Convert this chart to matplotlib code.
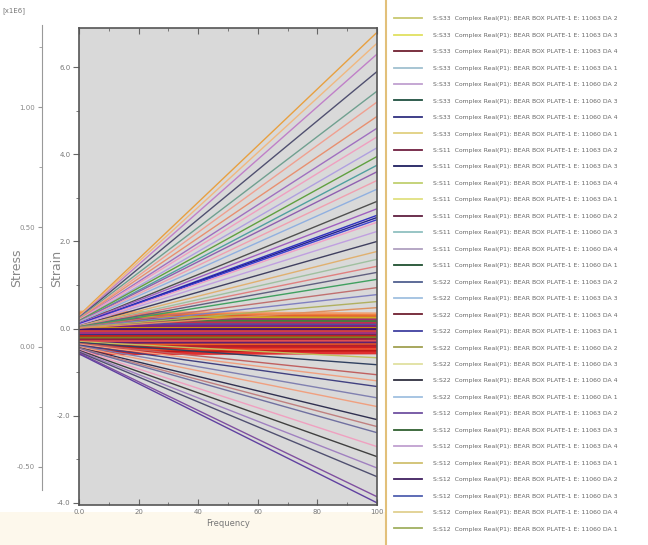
import matplotlib.pyplot as plt
from matplotlib.lines import Line2D
from matplotlib.patches import Rectangle
from matplotlib.ticker import MultipleLocator

# frequency end points of every curve
freq = [0.0, 100.0]

# curves that fan upwards (value at 0 and at 100)
up_start = [0.30, 0.28, 0.26, 0.25, 0.24, 0.22, 0.22, 0.20, 0.20, 0.18, 0.18, 0.16,
            0.16, 0.15, 0.14, 0.12, 0.12, 0.10, 0.10, 0.10, 0.08, 0.08, 0.06, 0.06,
            0.05, 0.05, 0.04, 0.04, 0.03, 0.02, 0.02, 0.01]
up_end = [6.80, 6.55, 6.30, 5.90, 5.45, 5.20, 4.87, 4.60, 4.40, 4.15, 3.95, 3.75,
          3.60, 3.40, 3.20, 2.92, 2.75, 2.60, 2.55, 2.50, 2.44, 2.23, 2.00, 1.77,
          1.59, 1.43, 1.29, 1.13, 0.94, 0.78, 0.62, 0.48]

# curves that fan downwards
down_start = [-0.30, -0.32, -0.34, -0.36, -0.38, -0.40, -0.42, -0.44, -0.45, -0.46,
              -0.48, -0.50, -0.52, -0.54, -0.56, -0.58]
down_end = [-0.67, -0.83, -1.06, -1.20, -1.33, -1.59, -1.79, -2.09, -2.25, -2.39,
            -2.71, -2.94, -3.20, -3.40, -3.86, -4.00]

# nearly flat curves in the band around zero
band_start = [0.38, 0.34, 0.30, 0.26, 0.22, 0.18, 0.14, 0.10, 0.06, 0.02, -0.02,
              -0.06, -0.10, -0.14, -0.18, -0.22, -0.26, -0.30, -0.34, -0.38, -0.42,
              -0.46, -0.50, -0.54, -0.58]
band_end = [0.34, 0.30, 0.27, 0.24, 0.20, 0.16, 0.12, 0.08, 0.05, 0.02, -0.02,
            -0.06, -0.10, -0.14, -0.17, -0.21, -0.25, -0.29, -0.33, -0.37, -0.40,
            -0.44, -0.48, -0.52, -0.56]

# legend labels
components = ['S:S33', 'S:S11', 'S:S22', 'S:S12']
elements = ['11063', '11060']
legend_labels = []
for i in range(32):
    comp = components[(i // 8) % 4]
    elem = elements[(i // 4) % 2]
    legend_labels.append('%s  Complex Real(P1): BEAR BOX PLATE-1 E: %s DA %d'
                         % (comp, elem, (i + 1) % 4 + 1))

up_colors = ['#e8a040', '#f0b880', '#c080c8', '#505070', '#70a090', '#f0a090',
             '#e89070', '#a070c0', '#f0a0c0', '#b0a0e0', '#60a040', '#50a0a0',
             '#9060b0', '#f0a0b0', '#90b0e0', '#505050', '#a060c0', '#3030c0',
             '#202090', '#4040d0', '#f0a0c8', '#c0a0e0', '#404060', '#e0b070',
             '#a0c0a0', '#e08080', '#606080', '#40a060', '#c07070', '#8080c0',
             '#b0b060', '#e09060']
down_colors = ['#c0c060', '#304060', '#c06060', '#f0a080', '#404080', '#8080b0',
               '#f0a080', '#303050', '#c08080', '#7070a0', '#f0a0c0', '#404040',
               '#a080c0', '#505070', '#8050a0', '#6040a0']
band_colors = ['#f0a070', '#f08040', '#e06030', '#d0b020', '#a03070', '#408040',
               '#c03050', '#5050a0', '#802080', '#d09000', '#401070', '#d04040',
               '#a03080', '#303080', '#c02020', '#808020', '#902040', '#e05050',
               '#602070', '#f06020', '#b02030', '#d02020', '#f05030', '#c01818',
               '#e03030']
legend_colors = ['#c8c870', '#e0e060', '#702030', '#a0c0d0', '#c0a0d0', '#205040',
                 '#303080', '#e0d080', '#702040', '#202060', '#c0d070', '#e0e080',
                 '#602040', '#90c0c0', '#b0a0c0', '#205030', '#506090', '#a0c0e0',
                 '#702030', '#4040a0', '#a0a050', '#e0e0a0', '#303040', '#a0c0e0',
                 '#7050a0', '#306030', '#c0a0d0', '#d0c070', '#402060', '#5060b0',
                 '#e0d090', '#a0b060']

fig = plt.figure(figsize=(6.48, 5.45), dpi=100)
fig.patch.set_facecolor('white')
fig.add_artist(Rectangle((0, 0), 386 / 648, 33 / 545, transform=fig.transFigure,
                         facecolor='#fdf8ec', edgecolor='none', zorder=-5))

ax = fig.add_axes([79 / 648, 40 / 545, 298 / 648, 477 / 545])
ax.set_facecolor('#d9d9d9')

for y0, y1, c in zip(band_start, band_end, band_colors):
    ax.plot(freq, [y0, y1], color=c, lw=2.0)
for y0, y1, c in zip(down_start, down_end, down_colors):
    ax.plot(freq, [y0, y1], color=c, lw=1.0)
for y0, y1, c in zip(up_start, up_end, up_colors):
    ax.plot(freq, [y0, y1], color=c, lw=1.0)

ax.set_xlim(0, 100)
ax.set_ylim(-4.05, 6.9)
ax.xaxis.set_major_locator(MultipleLocator(20))
ax.xaxis.set_minor_locator(MultipleLocator(10))
ax.yaxis.set_major_locator(MultipleLocator(2))
ax.yaxis.set_minor_locator(MultipleLocator(1))
ax.set_xticklabels(['', '0.0', '20', '40', '60', '80', '100'])
ax.set_yticklabels(['', '-4.0', '-2.0', '0.0', '2.0', '4.0', '6.0'])
ax.tick_params(axis='x', which='both', direction='in', top=True, labelsize=5,
               labelcolor='#777777', color='#666666', pad=3)
ax.tick_params(axis='y', which='both', direction='out', labelsize=5,
               labelcolor='#777777', color='#666666', pad=2)
ax.tick_params(which='major', length=4)
ax.tick_params(which='minor', length=2)
for s in ax.spines.values():
    s.set_color('#555555')
    s.set_linewidth(1.2)
ax.set_xlabel('Frequency', fontsize=6, color='#777777', labelpad=3)

# outer stress axis
ax_s = fig.add_axes([42 / 648, 55 / 545, 0.0001, 465 / 545])
ax_s.set_ylim(-0.596, 1.342)
ax_s.yaxis.set_major_locator(MultipleLocator(0.5))
ax_s.yaxis.set_minor_locator(MultipleLocator(0.25))
ax_s.set_yticklabels(['', '-0.50', '0.00', '0.50', '1.00'])
ax_s.set_xticks([])
ax_s.patch.set_visible(False)
for k in ['top', 'right', 'bottom']:
    ax_s.spines[k].set_visible(False)
ax_s.spines['left'].set_color('#999999')
ax_s.tick_params(axis='y', which='both', labelsize=5, labelcolor='#888888',
                 color='#999999', pad=2)
ax_s.tick_params(which='major', length=3)
ax_s.tick_params(which='minor', length=2)

fig.text(17 / 648, 1 - 268 / 545, 'Stress', rotation=90, fontsize=9,
         color='#888888', ha='center', va='center')
fig.text(57 / 648, 1 - 268 / 545, 'Strain', rotation=90, fontsize=9,
         color='#888888', ha='center', va='center')
fig.text(14 / 648, 1 - 11 / 545, '[x1E6]', fontsize=5, color='#777777',
         ha='center', va='center')

# legend panel
fig.add_artist(Line2D([386 / 648, 386 / 648], [0, 1], transform=fig.transFigure,
                      color='#e2c07a', lw=1.5))
handles = [Line2D([], [], color=c, lw=1.3) for c in legend_colors]
fig.legend(handles, legend_labels, loc='upper left',
           bbox_to_anchor=(391 / 648, 1 - 13 / 545), frameon=False, fontsize=4.4,
           labelcolor='#666666', handlelength=4.6, handletextpad=1.7,
           labelspacing=1.83, borderpad=0)

fig.savefig('out.png', dpi=100)
